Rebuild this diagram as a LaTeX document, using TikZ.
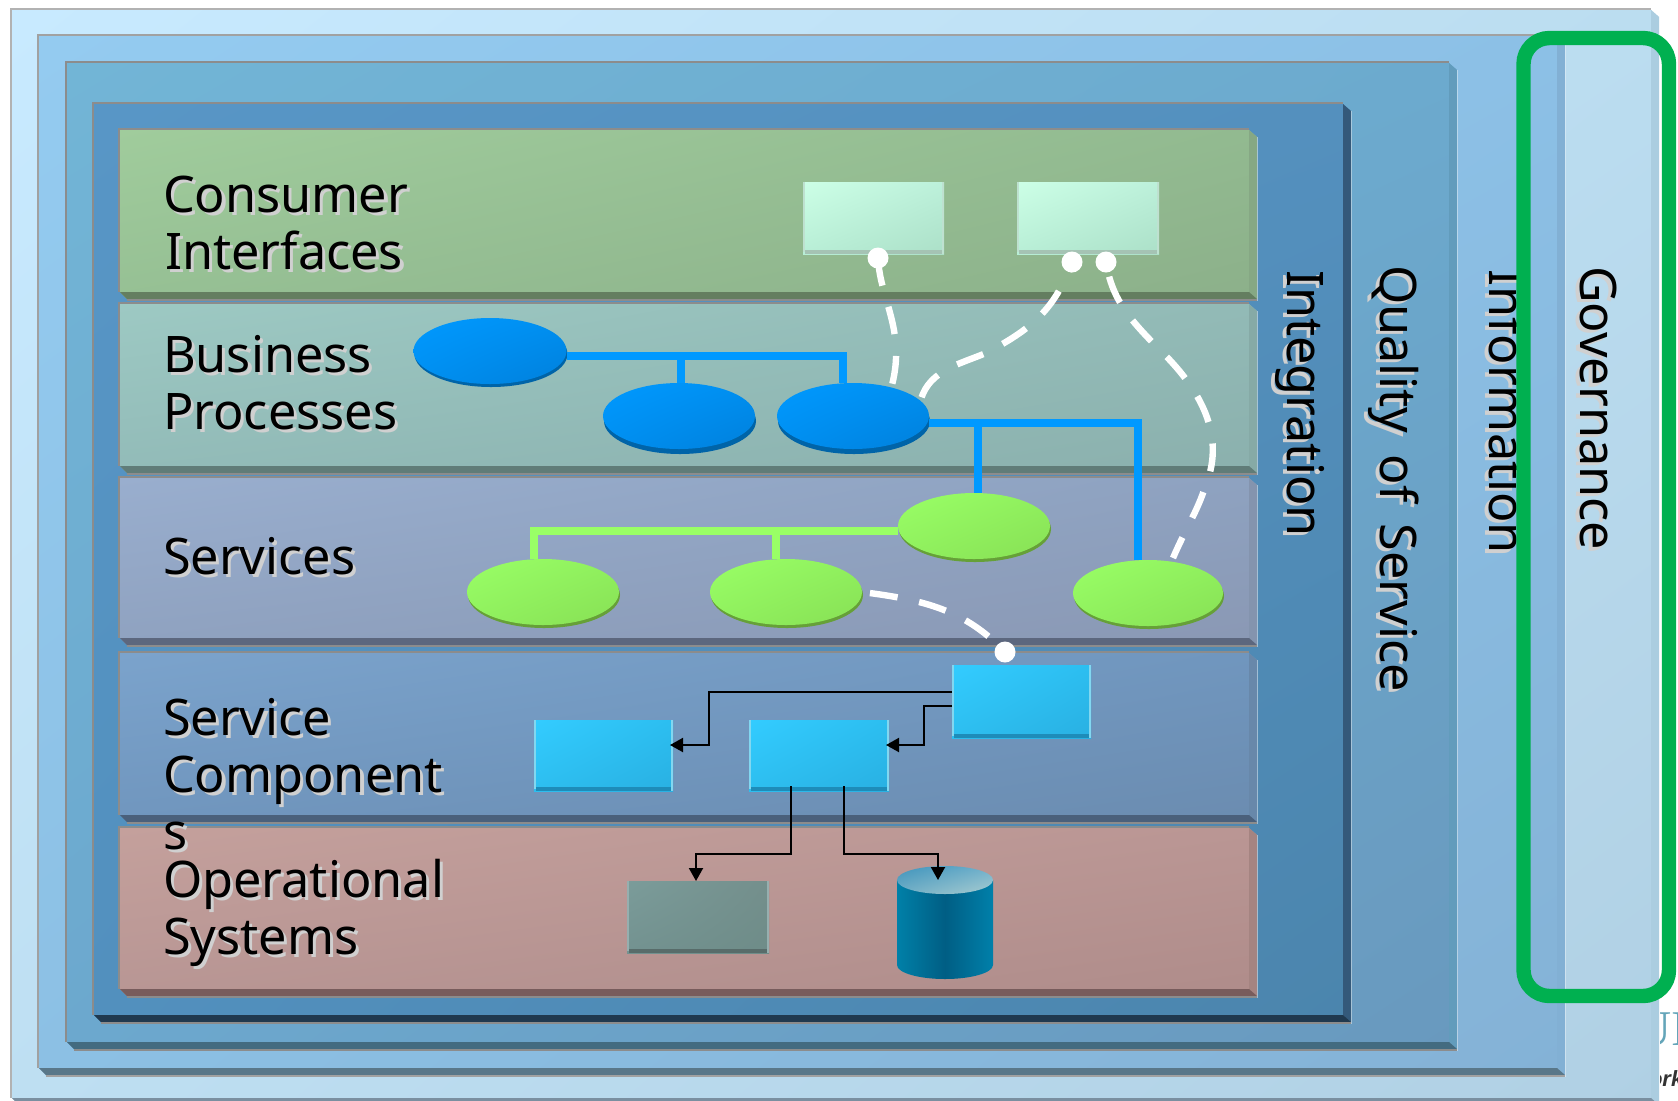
\documentclass[tikz,border=0pt]{standalone}
\usepackage{fontspec}
\setmainfont{Noto Sans}
\newfontfamily\fragserif{Liberation Serif}
\newfontfamily\fragsans{Liberation Sans}
\usetikzlibrary{arrows.meta,shapes.geometric,shadings,fit,calc}
\definecolor{edgecol}{HTML}{909090}
\definecolor{shadowcol}{HTML}{D0D0D0}
\newcommand{\shtxt}[1]{\leavevmode\rlap{\kern1.6pt\raisebox{-1.6pt}{\color{shadowcol}#1}}#1}
\tikzset{
  face/.code n args={4}{\definecolor{fUL}{HTML}{#1}\definecolor{fUR}{HTML}{#2}\definecolor{fLL}{HTML}{#3}\definecolor{fLR}{HTML}{#4}\tikzset{upper left=fUL,upper right=fUR,lower left=fLL,lower right=fLR}},
  lbl/.style={anchor=base west,inner sep=0pt,outer sep=0pt,align=left,font=\fontsize{25.2}{28.5}\selectfont,text=black},
  vlbl/.style={lbl,rotate=-90},
  tree blue/.style={draw={rgb,255:red,0;green,153;blue,255},line width=4pt},
  tree green/.style={draw={rgb,255:red,153;green,255;blue,102},line width=4pt},
  link/.style={draw=white,line width=3.2pt,dash pattern=on 14pt off 11pt},
  wire/.style={draw=black,line width=1pt,-{Triangle[length=6.5pt,width=7pt]}},
  dot/.style={circle,fill=white,minimum size=10.5pt,inner sep=0pt,outer sep=0pt},
  box/.style={inner sep=0pt,outer sep=0pt},
}
% plate: x1 y1 x2 yb face-style side bottom
\newcommand{\plate}[7]{%
  \shade[#5] (#1,#2) -- (#3-8,#2) -- (#3,#2+7) -- (#3,#4+7) -- (#1+7,#4+7) -- (#1,#4) -- cycle;
  \fill[#6] (#3-8,#2) -- (#3,#2+7) -- (#3,#4+7) -- (#3-8,#4) -- cycle;
  \fill[#7] (#1,#4) -- (#3-8,#4) -- (#3,#4+7) -- (#1+7,#4+7) -- cycle;
  \fill[edgecol] (#1-2,#2-2) rectangle (#3-8,#2);
  \fill[edgecol] (#1-2,#2) rectangle (#1,#4);
  \fill[edgecol] (#1+7,#4+7) rectangle (#3,#4+9);
  \fill[white,fill opacity=.45] (#3,#2+7) rectangle (#3+1,#4+9);
}
% small box: name x1 y1 x2 y2 face-style strip-colour edge-colour
\newcommand{\smallbox}[8]{%
  \node[box,fit={(#2,#3) (#4,#5)},shade,#6] (#1) {};
  \fill[#7] (#2+2,#5-4) rectangle (#4,#5);
  \fill[#8] (#2,#3) rectangle (#2+2,#5-2);
  \fill[#8] (#4-2,#3) rectangle (#4,#5);
}
% oval: name cx cy w h face-style dark dy
\newcommand{\ovalnode}[8]{%
  \fill[#7] (#2+1,#3+#8) ellipse [x radius={#4/4*1pt},y radius={#5/4*1pt}];
  \node[box,ellipse,shade,minimum width={#4/2*1pt},minimum height={#5/2*1pt},#6] (#1) at (#2,#3) {};
}
\begin{document}
\begin{tikzpicture}[x=0.5pt,y=-0.5pt]
\useasboundingbox (0,0) rectangle (1678,1100);
\fill[white] (0,0) rectangle (1678,1100);

% nested plates
\colorlet{edgecol}{black!30}
\plate{12}{10}{1659}{1098}{face={C8EAFF}{BBDDF0}{BEDFF2}{B0D0E4}}{fill={rgb,255:red,171;green,205;blue,224}}{fill={rgb,255:red,122;green,143;blue,160}}
\colorlet{edgecol}{black!37}
\plate{39}{36}{1565}{1068}{face={94CBF0}{8CC0E6}{8CC0E4}{84B2D6}}{fill={rgb,255:red,130;green,176;blue,212}}{fill={rgb,255:red,89;green,119;blue,137}}
\colorlet{edgecol}{black!45}
\plate{67}{63}{1457}{1042}{face={72B5D6}{6CAACE}{6CA8CE}{6999BE}}{fill={rgb,255:red,98;green,156;blue,188}}{fill={rgb,255:red,67;green,107;blue,128}}
\plate{94}{104}{1351}{1015}{face={5896C6}{5490BE}{5290BE}{4B85AD}}{fill={rgb,255:red,52;green,89;blue,122}}{fill={rgb,255:red,32;green,57;blue,79}}

% layers
\plate{120}{130}{1257}{292}{face={A0CC9C}{92BA90}{96C094}{8CB08A}}{fill={rgb,255:red,134;green,168;blue,132}}{fill={rgb,255:red,100;green,126;blue,96}}
\plate{120}{304}{1257}{466}{face={9DC9C3}{92BAB6}{92BBB8}{8BB0AD}}{fill={rgb,255:red,134;green,170;blue,166}}{fill={rgb,255:red,96;green,124;blue,120}}
\plate{120}{478}{1257}{638}{face={99AECE}{8EA2C0}{8FA2C0}{8A98B4}}{fill={rgb,255:red,132;green,148;blue,174}}{fill={rgb,255:red,92;green,103;blue,126}}
\plate{120}{653}{1257}{815}{face={7BA3CC}{7096BE}{7096BE}{6B8CB0}}{fill={rgb,255:red,104;green,136;blue,170}}{fill={rgb,255:red,74;green,96;blue,123}}
\plate{120}{828}{1257}{989}{face={C4A09C}{BA9694}{B89694}{AF8C8A}}{fill={rgb,255:red,165;green,132;blue,129}}{fill={rgb,255:red,120;green,92;blue,92}}

% layer labels
\node[lbl] (consumer) at (163,269) {\shtxt{Consumer}\\\shtxt{\kern1pt Interfaces}};
\node[lbl] (business) at (163,429) {\shtxt{Business}\\\shtxt{Processes}};
\node[lbl] (services) at (163,574) {\shtxt{Services}};
\node[lbl] (components) at (163,849) {\shtxt{Service}\\\shtxt{Component}\\\shtxt{s}};
\node[lbl] (operational) at (163,954) {\shtxt{Operational}\\\shtxt{Systems}};

% side labels
\node[vlbl] (integration) at (1287,270) {\shtxt{Integration}};
\node[vlbl] (quality) at (1380,265) {\shtxt{Quality\kern4pt\ of\kern4pt\ Service}};
\begin{scope}
  \clip (1400,200) rectangle (1516,700);
  \node[vlbl] (information) at (1489,269) {\shtxt{Information}};
\end{scope}
\node[vlbl] (governance) at (1580,266) {\shtxt{Governance}};

% consumer interface boxes
\smallbox{ci1}{803}{182}{944}{254}{face={CCFFE6}{BCF0DA}{B8EED6}{ACE0C8}}{fill={rgb,255:red,165;green,195;blue,180}}{fill={rgb,255:red,190;green,225;blue,208}}
\smallbox{ci2}{1017}{182}{1159}{254}{face={CCFFE6}{BCF0DA}{B8EED6}{ACE0C8}}{fill={rgb,255:red,165;green,195;blue,180}}{fill={rgb,255:red,190;green,225;blue,208}}

% business process ovals
\ovalnode{bp1}{490}{351}{153}{66}{face={0099FF}{008FF0}{008FF0}{0080DC}}{fill={rgb,255:red,0;green,100;blue,168}}{3}
\ovalnode{bp2}{679}{416}{152}{66}{face={0099FF}{008FF0}{008FF0}{0080DC}}{fill={rgb,255:red,0;green,100;blue,168}}{5}
\ovalnode{bp3}{853}{416}{152}{66}{face={0099FF}{008FF0}{008FF0}{0080DC}}{fill={rgb,255:red,0;green,100;blue,168}}{5}

% service ovals
\ovalnode{sv1}{543}{592}{152}{66}{face={99FF66}{90F05E}{90F05E}{88E055}}{fill={rgb,255:red,102;green,160;blue,56}}{3}
\ovalnode{sv2}{786}{592}{152}{66}{face={99FF66}{90F05E}{90F05E}{88E055}}{fill={rgb,255:red,102;green,160;blue,56}}{3}
\ovalnode{sv3}{974}{526}{152}{66}{face={99FF66}{90F05E}{90F05E}{88E055}}{fill={rgb,255:red,102;green,160;blue,56}}{3}
\ovalnode{sv4}{1148}{593}{150}{66}{face={99FF66}{90F05E}{90F05E}{88E055}}{fill={rgb,255:red,102;green,160;blue,56}}{3}

% blue trees
\coordinate (j1) at (681,356);
\coordinate (j2) at (843,356);
\coordinate (j3) at (978,423);
\coordinate (j4) at (1138,423);
\draw[tree blue,line join=miter] (bp1.east |- j1) -- (j2) -- (j2 |- bp3.north);
\draw[tree blue] (j1) -- (j1 |- bp2.north);
\draw[tree blue,line join=miter] (bp3.east |- j3) -- (j4) -- (j4 |- sv4.north);
\draw[tree blue] (j3) -- (j3 |- sv3.north);

% green tree
\coordinate (j5) at (534,531);
\coordinate (j6) at (776,531);
\draw[tree green,line join=miter] (sv3.west |- j5) -- (j5) -- (j5 |- sv1.north);
\draw[tree green] (j6) -- (j6 |- sv2.north);

% service component boxes
\smallbox{sa}{534}{720}{673}{791}{face={33CCFF}{2CBEF0}{2DBEEF}{29B0E2}}{fill={rgb,255:red,30;green,140;blue,185}}{fill={rgb,255:red,130;green,215;blue,240}}
\smallbox{sb}{749}{720}{889}{791}{face={33CCFF}{2CBEF0}{2DBEEF}{29B0E2}}{fill={rgb,255:red,30;green,140;blue,185}}{fill={rgb,255:red,130;green,215;blue,240}}
\smallbox{sc}{952}{665}{1091}{738}{face={33CCFF}{2CBEF0}{2DBEEF}{29B0E2}}{fill={rgb,255:red,30;green,140;blue,185}}{fill={rgb,255:red,130;green,215;blue,240}}

% operational system box
\smallbox{os}{627}{881}{769}{953}{face={7B9C9A}{748F8C}{739290}{6E8C88}}{fill={rgb,255:red,88;green,108;blue,106}}{fill={rgb,255:red,150;green,175;blue,175}}

% database
\shade[left color={rgb,255:red,0;green,128;blue,168},right color={rgb,255:red,0;green,128;blue,170},middle color={rgb,255:red,0;green,94;blue,132}]
  (897,880) -- (897,965) arc[start angle=180,end angle=360,x radius=24pt,y radius=7pt] -- (993,880) -- cycle;
\shade[face={3F94BC}{6FB0CC}{72AFC6}{A8CCD0}] (945,880) ellipse [x radius=24pt,y radius=7pt];
\node[box,fit={(897,866) (993,979)}] (db) {};

% black connectors
\coordinate (t1) at (709,692);
\coordinate (t2) at (924,706);
\coordinate (t3) at (791,854);
\coordinate (t4) at (844,854);
\coordinate (t5) at (696,854);
\coordinate (t6) at (938,854);
\draw[wire,line join=miter] (sc.west |- t1) -- (t1) -- (t1 |- 0,745) -- ([xshift=-1.5pt]sa.east |- 0,745);
\draw[wire,line join=miter] (sc.west |- t2) -- (t2) -- (t2 |- 0,745) -- ([xshift=-1.5pt]sb.east |- 0,745);
\draw[wire,line join=miter] ([yshift=2.5pt]t3 |- sb.south) -- (t3) -- (t5) -- (t5 |- os.north);
\draw[wire,line join=miter] ([yshift=2.5pt]t4 |- sb.south) -- (t4) -- (t6) -- ([yshift=-7pt]t6 |- db.north);

% white dots
\node[dot] (d1) at (878,258) {};
\node[dot] (d2) at (1072,262) {};
\node[dot] (d3) at (1106,262) {};
\node[dot] (d4) at (1005,652) {};

% white dashed links
\draw[link] (d1.center) .. controls (880,300) and (906,330) .. (892,385);
\draw[link,dash phase=9pt] (d2.center) .. controls (1055,310) and (1030,330) .. (986,353) .. controls (960,364) and (930,370) .. (921,399);
\draw[link,dash phase=17.5pt] (d3.center) .. controls (1112,300) and (1130,320) .. (1163,353) .. controls (1205,395) and (1225,440) .. (1205,487) .. controls (1198,510) and (1185,530) .. (1173,558);
\draw[link,dash phase=21pt] (sv2.east) .. controls (925,600) and (965,610) .. (d4.center);

% governance frame
\draw[draw={rgb,255:red,0;green,176;blue,80},line width=7.2pt,rounded corners=13pt] (1523.5,38) rectangle (1669,996);

% cropped fragments at the edge
\begin{scope}
  \clip (1660,1000) rectangle (1678,1100);
  \node[lbl,font=\fragserif\fontsize{25}{28}\selectfont,text={rgb,255:red,100;green,165;blue,185}] (frag1) at (1635,1045) {UI};
  \node[lbl,font=\fragsans\bfseries\itshape\fontsize{11}{13}\selectfont,text=black!80] (frag2) at (1649,1086) {ork};
\end{scope}
\end{tikzpicture}
\end{document}
